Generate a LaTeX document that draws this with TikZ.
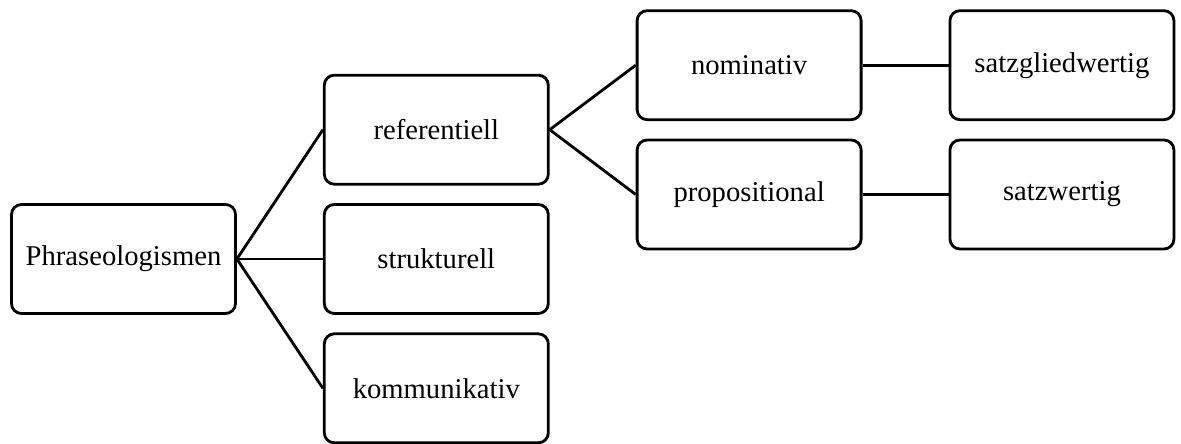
\documentclass[tikz,border=0pt]{standalone}
\usepackage{fontspec}
\setmainfont{Liberation Serif}
\usetikzlibrary{positioning}

\begin{document}
\begin{tikzpicture}[
        node distance=0.35cm and 1.72cm,
        every node/.style={rectangle, draw, rounded corners=0.2cm, line width=1.6pt,
            minimum width=4.48cm, minimum height=2.18cm,
            font=\fontsize{16.3}{19}\selectfont}
        ]
        \useasboundingbox (-2.47,-3.68) rectangle (21.15,5.18);
        \node (phr) at (0,0) {Phraseologismen};
        \node[right=of phr] (str) {strukturell};
        \node[above=of str] (ref) {referentiell};
        \node[below=of str] (kom) {kommunikativ};
        \node[right=of ref, yshift=1.29cm] (nom) {nominativ};
        \node[below=of nom] (prop) {propositional};
        \node[right=of nom] (sgw) {satzgliedwertig};
        \node[right=of prop] (sw) {satzwertig};
        \draw[line width=1.6pt] (phr.east) -- (ref.west);
        \draw[line width=1.6pt] (phr.east) -- (str.west);
        \draw[line width=1.6pt] (phr.east) -- (kom.west);
        \draw[line width=1.6pt] (ref.east) -- (nom.west);
        \draw[line width=1.6pt] (ref.east) -- (prop.west);
        \draw[line width=1.6pt] (nom) -- (sgw);
        \draw[line width=1.6pt] (prop) -- (sw);
        \end{tikzpicture}
\end{document}
